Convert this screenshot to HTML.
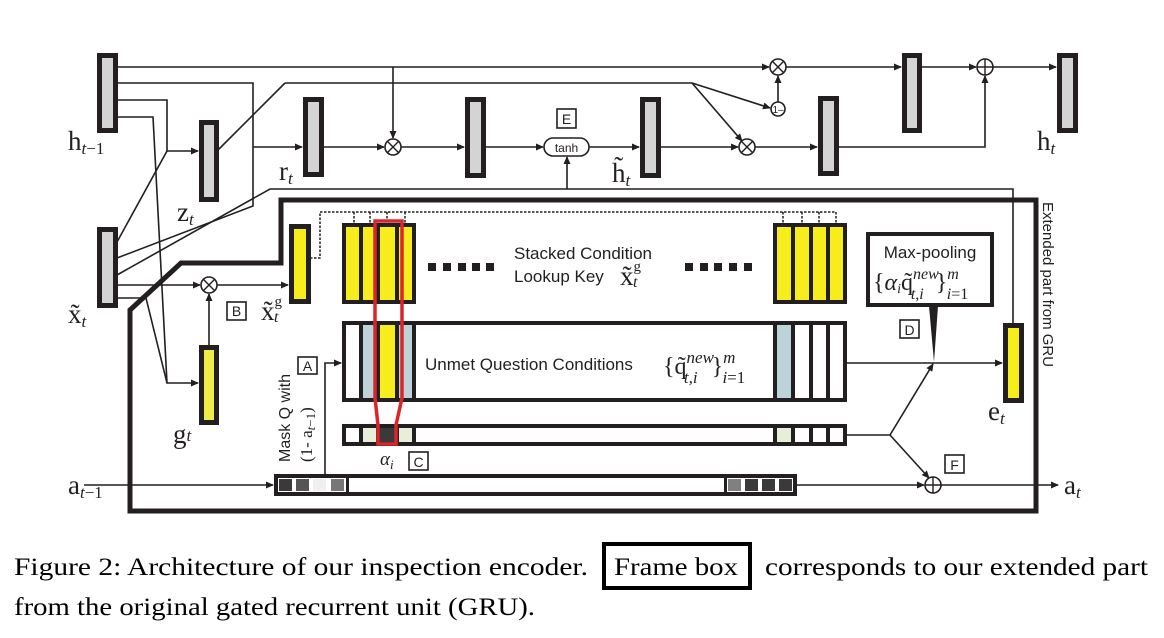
<!DOCTYPE html>
<html><head><meta charset="utf-8"><style>
html,body{margin:0;padding:0;background:#fff;}
svg{display:block;}
.s{font-family:"Liberation Sans",sans-serif;}
.r{font-family:"Liberation Serif",serif;}
</style></head><body>
<svg width="1164" height="638" viewBox="0 0 1164 638" xmlns="http://www.w3.org/2000/svg">
<defs>
<marker id="a" markerWidth="8" markerHeight="8" refX="7" refY="4" orient="auto" markerUnits="userSpaceOnUse"><path d="M0,0.5 L8,4 L0,7.5 Z" fill="#231f20"/></marker>
</defs>
<g stroke="#231f20" stroke-width="1.6" fill="none">
<line x1="117" y1="67" x2="769" y2="67" marker-end="url(#a)"/>
<line x1="393" y1="67" x2="393" y2="138" marker-end="url(#a)"/>
<polyline points="117,83 253,83 253,206 117,258"/>
<polyline points="285,83 692,83"/>
<line x1="285" y1="83" x2="218" y2="150"/>
<line x1="692" y1="83" x2="770" y2="108" marker-end="url(#a)"/>
<line x1="692" y1="83" x2="742" y2="141" marker-end="url(#a)"/>
<line x1="778" y1="102" x2="778" y2="76" marker-end="url(#a)"/>
<polyline points="117,100 167,100 167,151 198,151" marker-end="url(#a)"/>
<line x1="117" y1="242" x2="167" y2="151"/>
<polyline points="117,117 153,117 167,383 198,383" marker-end="url(#a)"/>
<polyline points="117,298 146,298 167,383"/>
<line x1="253" y1="147" x2="302" y2="147" marker-end="url(#a)"/>
<polyline points="117,275 270,189 1013,189 1013,323"/>
<line x1="567" y1="189" x2="567" y2="157" marker-end="url(#a)"/>
<line x1="117" y1="285" x2="200" y2="285" marker-end="url(#a)"/>
<line x1="217" y1="285" x2="288" y2="285" marker-end="url(#a)"/>
<line x1="209" y1="345" x2="209" y2="294" marker-end="url(#a)"/>
<line x1="323" y1="147" x2="384" y2="147" marker-end="url(#a)"/>
<line x1="401" y1="147" x2="464" y2="147" marker-end="url(#a)"/>
<line x1="484" y1="147" x2="543" y2="147" marker-end="url(#a)"/>
<line x1="589" y1="147" x2="639" y2="147" marker-end="url(#a)"/>
<line x1="661" y1="147" x2="738" y2="147" marker-end="url(#a)"/>
<line x1="755" y1="147" x2="817" y2="147" marker-end="url(#a)"/>
<polyline points="838,147 985,147 985,76" marker-end="url(#a)"/>
<line x1="786" y1="67" x2="901" y2="67" marker-end="url(#a)"/>
<line x1="921" y1="67" x2="976" y2="67" marker-end="url(#a)"/>
<line x1="993" y1="67" x2="1056" y2="67" marker-end="url(#a)"/>
<line x1="846" y1="363" x2="1002" y2="363" marker-end="url(#a)"/>
<polyline points="846,435 890,435 933,364" marker-end="url(#a)"/>
<line x1="890" y1="435" x2="929" y2="478" marker-end="url(#a)"/>
<line x1="84" y1="485" x2="273" y2="485" marker-end="url(#a)"/>
<line x1="797" y1="485" x2="924" y2="485" marker-end="url(#a)"/>
<line x1="941" y1="485" x2="1058" y2="485" marker-end="url(#a)"/>
<polyline points="325,474 325,363 341,363" marker-end="url(#a)"/>
</g>
<g stroke="#231f20" stroke-width="1.5" fill="none" stroke-dasharray="2.5,1.5">
<polyline points="310,258 320,258 320,212 836,212"/>
<line x1="354" y1="212" x2="354" y2="223"/><line x1="370" y1="212" x2="370" y2="223"/><line x1="387" y1="212" x2="387" y2="223"/><line x1="405" y1="212" x2="405" y2="223"/>
<line x1="783" y1="212" x2="783" y2="223"/><line x1="802" y1="212" x2="802" y2="223"/><line x1="819" y1="212" x2="819" y2="223"/><line x1="836" y1="212" x2="836" y2="223"/>
</g>
<polygon points="281,200 1036,200 1036,511 130,511 130,310 181,263 281,263" fill="none" stroke="#231f20" stroke-width="5"/>
<g fill="#d4d4d4" stroke="#231f20" stroke-width="5">
<rect x="99.5" y="55.5" width="16" height="75"/>
<rect x="201.5" y="122.5" width="15" height="77"/>
<rect x="305.5" y="99.5" width="16" height="75"/>
<rect x="467.5" y="99.5" width="16" height="76"/>
<rect x="642.5" y="99.5" width="16" height="76"/>
<rect x="820.5" y="98.5" width="16" height="75"/>
<rect x="904.5" y="55.5" width="15" height="75"/>
<rect x="1059.5" y="55.5" width="16" height="75"/>
<rect x="99.5" y="229.5" width="16" height="76"/>
</g>
<g fill="#f7ec1c" stroke="#231f20" stroke-width="5">
<rect x="201.5" y="347.5" width="15" height="75" fill="#eded45"/>
<rect x="291.5" y="226.5" width="17" height="75"/>
<rect x="1005.5" y="325.5" width="16" height="75"/>
</g>
<g stroke="#231f20" stroke-width="4">
<rect x="344" y="225" width="70" height="77" fill="#f7ec1c"/>
<line x1="361" y1="225" x2="361" y2="302"/><line x1="378" y1="225" x2="378" y2="302"/><line x1="397" y1="225" x2="397" y2="302"/>
<rect x="775" y="225" width="70" height="77" fill="#f7ec1c"/>
<line x1="793" y1="225" x2="793" y2="302"/><line x1="811" y1="225" x2="811" y2="302"/><line x1="828" y1="225" x2="828" y2="302"/>
<rect x="344" y="323" width="501" height="77" fill="#fff"/>
<rect x="361" y="323" width="53" height="77" fill="#bcd4d9"/>
<rect x="378" y="323" width="19" height="77" fill="#f7ec1c"/>
<line x1="414" y1="323" x2="414" y2="400"/>
<rect x="775" y="323" width="18" height="77" fill="#bcd4d9"/>
<line x1="811" y1="323" x2="811" y2="400"/><line x1="828" y1="323" x2="828" y2="400"/>
<rect x="344" y="426" width="501" height="18" fill="#fff"/>
<rect x="361" y="426" width="53" height="18" fill="#e8efd8"/>
<rect x="378" y="426" width="19" height="18" fill="#3a3a3a"/>
<rect x="775" y="426" width="18" height="18" fill="#e8efd8"/>
<line x1="811" y1="426" x2="811" y2="444"/><line x1="828" y1="426" x2="828" y2="444"/>
<rect x="276" y="476" width="519" height="18" fill="#fff"/>
</g>
<g>
<rect x="279" y="479" width="13" height="12" fill="#3a3a3a"/>
<rect x="296" y="479" width="13" height="12" fill="#555"/>
<rect x="313" y="479" width="13" height="12" fill="#f0f0f0"/>
<rect x="331" y="479" width="13" height="12" fill="#777"/>
<rect x="346" y="478" width="3" height="14" fill="#231f20"/>
<rect x="724" y="478" width="3" height="14" fill="#231f20"/>
<rect x="728" y="479" width="13" height="12" fill="#808080"/>
<rect x="745" y="479" width="13" height="12" fill="#3a3a3a"/>
<rect x="762" y="479" width="13" height="12" fill="#3a3a3a"/>
<rect x="779" y="479" width="13" height="12" fill="#3a3a3a"/>
</g>
<polygon points="375,221 402,221 402,398 396,425 396,444 378,444 378,425 375,398" fill="none" stroke="#d9262b" stroke-width="3.5"/>
<g fill="#231f20">
<rect x="428" y="263" width="8" height="8"/><rect x="443" y="263" width="8" height="8"/><rect x="458" y="263" width="8" height="8"/><rect x="472" y="263" width="8" height="8"/><rect x="486" y="263" width="8" height="8"/>
<rect x="685" y="263" width="8" height="8"/><rect x="700" y="263" width="8" height="8"/><rect x="714" y="263" width="8" height="8"/><rect x="729" y="263" width="8" height="8"/><rect x="744" y="263" width="8" height="8"/>
</g>
<rect x="868" y="234" width="124" height="71" fill="#fff" stroke="#231f20" stroke-width="4"/>
<polygon points="929,306 938,306 934,362" fill="#231f20"/>
<g fill="#fff" stroke="#231f20" stroke-width="1.6">
<circle cx="393" cy="147" r="8"/><circle cx="747" cy="147" r="8"/><circle cx="778" cy="67" r="8"/><circle cx="209" cy="285" r="8"/>
<circle cx="985" cy="67" r="8"/><circle cx="933" cy="485" r="8"/><circle cx="778" cy="109" r="7"/>
<rect x="544" y="138" width="45" height="18" rx="9"/>
</g>
<g stroke="#231f20" stroke-width="1.4">
<path d="M387.3,141.3 L398.7,152.7 M398.7,141.3 L387.3,152.7"/>
<path d="M741.3,141.3 L752.7,152.7 M752.7,141.3 L741.3,152.7"/>
<path d="M772.3,61.3 L783.7,72.7 M783.7,61.3 L772.3,72.7"/>
<path d="M203.3,279.3 L214.7,290.7 M214.7,279.3 L203.3,290.7"/>
<path d="M977,67 H993 M985,59 V75"/>
<path d="M925,485 H941 M933,477 V493"/>
</g>
<g fill="#fff" stroke="#231f20" stroke-width="1.6">
<rect x="557" y="109" width="19" height="19"/><rect x="227" y="302" width="19" height="18"/><rect x="298" y="357" width="19" height="17"/>
<rect x="409" y="452" width="19" height="18"/><rect x="900" y="320" width="19" height="18"/><rect x="945" y="455" width="19" height="18"/>
</g>
<g class="s" font-size="14" fill="#231f20" text-anchor="middle">
<text x="566.5" y="124">E</text><text x="236.5" y="316">B</text><text x="307.5" y="371">A</text>
<text x="418.5" y="467">C</text><text x="909.5" y="335">D</text><text x="954.5" y="470">F</text>
<text x="566.5" y="152" font-size="12">tanh</text>
<text x="778" y="113" font-size="10">1–</text>
</g>
<g class="s" fill="#231f20" font-size="17">
<text x="514" y="259">Stacked Condition</text>
<text x="514" y="282">Lookup Key</text>
<text x="425" y="370">Unmet Question Conditions</text>
<text x="930" y="258" text-anchor="middle">Max-pooling</text>
<text transform="translate(290,462) rotate(-90)" font-size="16">Mask Q with</text>
<text transform="translate(1043,202) rotate(90)" font-size="15">Extended part from GRU</text>
</g>
<g class="r" fill="#231f20" font-size="27">
<text x="68" y="150">h<tspan font-size="17" font-style="italic" dy="4">t</tspan><tspan font-size="17" dy="0">−1</tspan></text>
<text x="177" y="221">z<tspan font-size="17" font-style="italic" dy="4">t</tspan></text>
<text x="279" y="180">r<tspan font-size="17" font-style="italic" dy="4">t</tspan></text>
<text x="68" y="323">x̃<tspan font-size="17" font-style="italic" dy="4">t</tspan></text>
<text x="173" y="443">g<tspan font-size="17" font-style="italic" dy="-2">t</tspan></text>
<text x="68" y="494">a<tspan font-size="17" font-style="italic" dy="4">t</tspan><tspan font-size="17">−1</tspan></text>
<text x="261" y="320">x̃<tspan font-size="15" dy="-14">g</tspan><tspan font-size="16" font-style="italic" dx="-8" dy="16">t</tspan></text>
<text x="620" y="285">x̃<tspan font-size="15" dy="-14">g</tspan><tspan font-size="16" font-style="italic" dx="-8" dy="16">t</tspan></text>
<text x="612" y="182">h̃<tspan font-size="17" font-style="italic" dy="4">t</tspan></text>
<text x="1037" y="150">h<tspan font-size="17" font-style="italic" dy="4">t</tspan></text>
<text x="988" y="420">e<tspan font-size="17" font-style="italic" dy="4">t</tspan></text>
<text x="1064" y="494">a<tspan font-size="17" font-style="italic" dy="4">t</tspan></text>
<text x="380" y="465" font-size="19" font-style="italic">α<tspan font-size="13" dy="4">i</tspan></text>
<text x="663" y="374" font-size="24">{q̃<tspan font-size="17" font-style="italic" dy="-11">new</tspan><tspan font-size="17" font-style="italic" dx="-30" dy="20">t,i</tspan><tspan dx="14" dy="-9">}</tspan><tspan font-size="17" font-style="italic" dy="-11">m</tspan><tspan font-size="17" font-style="italic" dx="-13" dy="20">i</tspan><tspan font-size="17">=1</tspan></text>
<text x="873" y="290" font-size="24">{<tspan font-style="italic">α</tspan><tspan font-size="14" font-style="italic" dy="3">i</tspan><tspan dy="-3">q̃</tspan><tspan font-size="16" font-style="italic" dy="-11">new</tspan><tspan font-size="16" font-style="italic" dx="-28" dy="20">t,i</tspan><tspan dx="12" dy="-9">}</tspan><tspan font-size="16" font-style="italic" dy="-11">m</tspan><tspan font-size="16" font-style="italic" dx="-12" dy="20">i</tspan><tspan font-size="16">=1</tspan></text>
<text transform="translate(312,462) rotate(-90)" font-size="17">(1- a<tspan font-size="13" font-style="italic" dy="3">t</tspan><tspan font-size="13">−1</tspan><tspan dy="-3">)</tspan></text>
</g>
<rect x="604" y="544" width="146" height="44" fill="none" stroke="#000" stroke-width="4"/>
<g class="r" fill="#000" font-size="25">
<text x="14" y="575" textLength="574" lengthAdjust="spacingAndGlyphs">Figure 2: Architecture of our inspection encoder.</text>
<text x="614" y="575" textLength="124" lengthAdjust="spacingAndGlyphs">Frame box</text>
<text x="765" y="575" textLength="383" lengthAdjust="spacingAndGlyphs">corresponds to our extended part</text>
<text x="14" y="615" textLength="521" lengthAdjust="spacingAndGlyphs">from the original gated recurrent unit (GRU).</text>
</g>
</svg>
</body></html>
